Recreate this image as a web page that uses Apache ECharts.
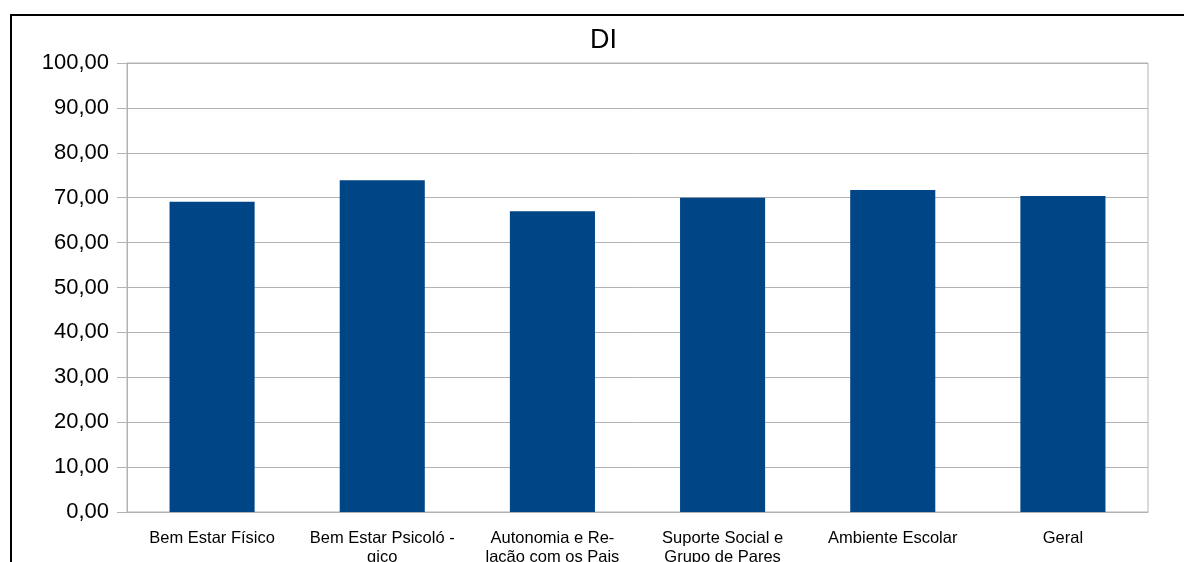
<!DOCTYPE html>
<html>
<head>
<meta charset="utf-8">
<script src="https://cdn.jsdelivr.net/npm/echarts@6/dist/echarts.min.js"></script>
<style>
  html, body { margin: 0; padding: 0; background: #fff; }
  #frame { position: absolute; left: 10px; top: 14px; width: 1174px; height: 548px;
           border-top: 2px solid #000; border-left: 2px solid #000; box-sizing: border-box; }
  #chart { position: absolute; left: 0; top: 0; width: 1184px; height: 562px; }
</style>
</head>
<body>
<div id="frame"></div>
<div id="chart"></div>
<script>
  // data
  const categories = [
    'Bem Estar Físico',
    'Bem Estar Psicoló -\ngico',
    'Autonomia e Re-\nlação com os Pais',
    'Suporte Social e\nGrupo de Pares',
    'Ambiente Escolar',
    'Geral'
  ];
  const diValues = [69.1, 73.9, 67.0, 70.0, 71.7, 70.4];
  const yTicks = [0, 10, 20, 30, 40, 50, 60, 70, 80, 90, 100];
  const yTickLabels = ['0,00', '10,00', '20,00', '30,00', '40,00', '50,00',
                       '60,00', '70,00', '80,00', '90,00', '100,00'];

  const chart = echarts.init(document.getElementById('chart'));
  chart.setOption({
    animation: false,
    textStyle: { fontFamily: 'Liberation Sans' },
    title: {
      text: 'DI',
      left: 585,
      top: 22,
      textStyle: { fontSize: 27, fontWeight: 'normal', color: '#000', fontFamily: 'Liberation Sans' }
    },
    grid: {
      left: 127,
      right: 36,
      top: 63,
      bottom: 50,
      outerBoundsMode: 'none',
      show: true,
      borderColor: '#b3b3b3',
      borderWidth: 1
    },
    xAxis: {
      type: 'category',
      data: categories,
      axisLine: { lineStyle: { color: '#b3b3b3' } },
      axisTick: { length: 10, lineStyle: { color: '#b3b3b3' } },
      axisLabel: {
        interval: 0,
        margin: 17,
        fontSize: 16.5,
        lineHeight: 19,
        color: '#000',
        fontFamily: 'Liberation Sans'
      }
    },
    yAxis: {
      type: 'value',
      min: 0,
      max: 100,
      interval: 10,
      axisLine: { show: true, lineStyle: { color: '#b3b3b3' } },
      axisTick: { show: true, length: 10, lineStyle: { color: '#b3b3b3' } },
      splitLine: { lineStyle: { color: '#b3b3b3' } },
      axisLabel: {
        margin: 18,
        fontSize: 22,
        color: '#000',
        fontFamily: 'Liberation Sans',
        formatter: v => yTickLabels[yTicks.indexOf(v)]
      }
    },
    series: [{
      name: 'DI',
      type: 'bar',
      data: diValues,
      barWidth: '50%',
      itemStyle: { color: '#004586' }
    }]
  });
</script>
</body>
</html>
